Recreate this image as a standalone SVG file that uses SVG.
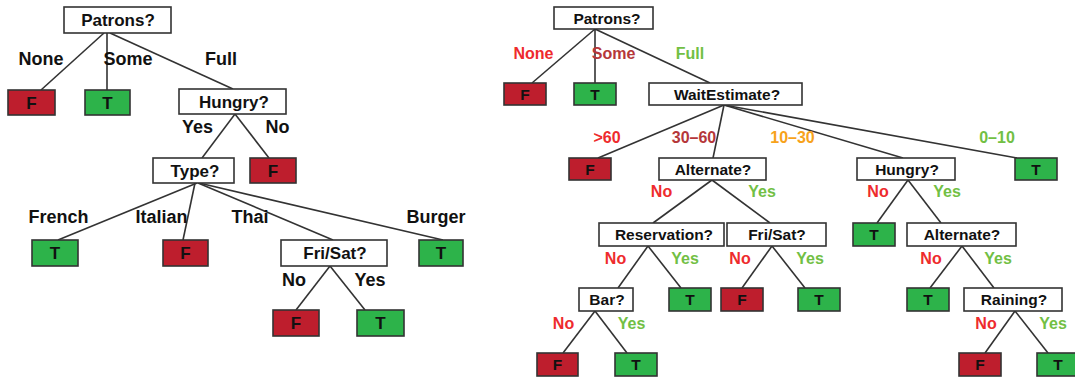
<svg xmlns="http://www.w3.org/2000/svg" width="1075" height="377" viewBox="0 0 1075 377">
<style>
.n{fill:#fff;stroke:#333;stroke-width:1.6}
.f{fill:#be1e2d;stroke:#333;stroke-width:1.6}
.t{fill:#2db34a;stroke:#333;stroke-width:1.6}
text{font-family:"Liberation Sans",Arial,sans-serif;font-weight:bold;text-anchor:middle}
.L text{font-size:17px;fill:#111}
.R text{font-size:15.5px;fill:#111}
.ll{font-size:18px;fill:#111}
.rl{font-size:16px}
.red{fill:#ee2b2d}
.dred{fill:#b5373a}
.grn{fill:#72bf44}
.org{fill:#f7a21b}
#edges line{stroke:#333;stroke-width:1.6}
</style>
<g id="edges">
<line x1="104" y1="33" x2="41" y2="90"/>
<line x1="107" y1="33" x2="107" y2="90"/>
<line x1="110" y1="33" x2="233" y2="89"/>
<line x1="235" y1="114" x2="202" y2="158"/>
<line x1="235" y1="114" x2="269" y2="158"/>
<line x1="197" y1="183" x2="58" y2="240"/>
<line x1="195" y1="183" x2="183" y2="240"/>
<line x1="198" y1="183" x2="333" y2="240"/>
<line x1="199" y1="183" x2="443" y2="240"/>
<line x1="330" y1="266" x2="296" y2="310"/>
<line x1="330" y1="266" x2="365" y2="310"/>
<line x1="595" y1="29" x2="532" y2="83"/>
<line x1="595" y1="29" x2="595" y2="83"/>
<line x1="595" y1="29" x2="710" y2="83"/>
<line x1="724" y1="105" x2="598" y2="158"/>
<line x1="724" y1="105" x2="713" y2="158"/>
<line x1="724" y1="105" x2="903" y2="158"/>
<line x1="724" y1="105" x2="1017" y2="158"/>
<line x1="712" y1="180" x2="653" y2="223"/>
<line x1="712" y1="180" x2="770" y2="223"/>
<line x1="908" y1="180" x2="877" y2="223"/>
<line x1="908" y1="180" x2="941" y2="223"/>
<line x1="648" y1="246" x2="618" y2="288"/>
<line x1="648" y1="246" x2="681" y2="288"/>
<line x1="772" y1="246" x2="742" y2="288"/>
<line x1="772" y1="246" x2="805" y2="288"/>
<line x1="962" y1="246" x2="930" y2="288"/>
<line x1="962" y1="246" x2="994" y2="288"/>
<line x1="595" y1="311" x2="563" y2="353"/>
<line x1="595" y1="311" x2="627" y2="353"/>
<line x1="1015" y1="311" x2="985" y2="353"/>
<line x1="1015" y1="311" x2="1048" y2="353"/>
</g>
<g id="edge-labels">
<text class="ll" x="41" y="65">None</text>
<text class="ll" x="128" y="65">Some</text>
<text class="ll" x="221" y="65">Full</text>
<text class="ll" x="197.5" y="133">Yes</text>
<text class="ll" x="277.5" y="133">No</text>
<text class="ll" x="58.5" y="223">French</text>
<text class="ll" x="161.5" y="223">Italian</text>
<text class="ll" x="250" y="223">Thai</text>
<text class="ll" x="436" y="223">Burger</text>
<text class="ll" x="294" y="286">No</text>
<text class="ll" x="370" y="286">Yes</text>
<text class="rl red" x="533.5" y="59">None</text>
<text class="rl dred" x="613.5" y="59">Some</text>
<text class="rl grn" x="690" y="59">Full</text>
<text class="rl red" x="607" y="143">&gt;60</text>
<text class="rl dred" x="694" y="143">30–60</text>
<text class="rl org" x="792.5" y="143">10–30</text>
<text class="rl grn" x="997" y="143">0–10</text>
<text class="rl red" x="661.5" y="197">No</text>
<text class="rl grn" x="762" y="197">Yes</text>
<text class="rl red" x="878" y="197">No</text>
<text class="rl grn" x="947" y="197">Yes</text>
<text class="rl red" x="615.5" y="264">No</text>
<text class="rl grn" x="685" y="264">Yes</text>
<text class="rl red" x="740" y="264">No</text>
<text class="rl grn" x="810" y="264">Yes</text>
<text class="rl red" x="931" y="264">No</text>
<text class="rl grn" x="998" y="264">Yes</text>
<text class="rl red" x="563.5" y="329">No</text>
<text class="rl grn" x="631.5" y="329">Yes</text>
<text class="rl red" x="986" y="329">No</text>
<text class="rl grn" x="1053" y="329">Yes</text>
</g>
<g class="L">
<g id="l-patrons"><rect class="n" x="64" y="7" width="107" height="26"/><text x="118" y="26">Patrons?</text></g>
<g id="l-f1"><rect class="f" x="8" y="90" width="47" height="25"/><text x="31.5" y="108.5">F</text></g>
<g id="l-t1"><rect class="t" x="85" y="90" width="45" height="25"/><text x="107.5" y="108.5">T</text></g>
<g id="l-hungry"><rect class="n" x="179" y="89" width="107" height="25"/><text x="234" y="107.5">Hungry?</text></g>
<g id="l-type"><rect class="n" x="153" y="158" width="81" height="25"/><text x="195" y="176.5">Type?</text></g>
<g id="l-f2"><rect class="f" x="250" y="158" width="46" height="25"/><text x="273" y="176.5">F</text></g>
<g id="l-t2"><rect class="t" x="32" y="240" width="46" height="26"/><text x="55" y="259">T</text></g>
<g id="l-f3"><rect class="f" x="163" y="240" width="45" height="26"/><text x="185.5" y="259">F</text></g>
<g id="l-frisat"><rect class="n" x="281" y="240" width="106" height="26"/><text x="335" y="259">Fri/Sat?</text></g>
<g id="l-t3"><rect class="t" x="419" y="240" width="44" height="26"/><text x="441" y="259">T</text></g>
<g id="l-f4"><rect class="f" x="273" y="310" width="46" height="26"/><text x="296" y="329">F</text></g>
<g id="l-t4"><rect class="t" x="357" y="310" width="47" height="26"/><text x="380.5" y="329">T</text></g>
</g>
<g class="R">
<g id="r-patrons"><rect class="n" x="554" y="7" width="99" height="22"/><text x="607" y="23.5">Patrons?</text></g>
<g id="r-f1"><rect class="f" x="504" y="83" width="42" height="22"/><text x="525" y="99.5">F</text></g>
<g id="r-t1"><rect class="t" x="574" y="83" width="42" height="22"/><text x="595" y="99.5">T</text></g>
<g id="r-wait"><rect class="n" x="649" y="83" width="153" height="22"/><text x="727" y="99.5">WaitEstimate?</text></g>
<g id="r-f2"><rect class="f" x="569" y="158" width="42" height="22"/><text x="590" y="174.5">F</text></g>
<g id="r-alt1"><rect class="n" x="659" y="158" width="107" height="22"/><text x="713" y="174.5">Alternate?</text></g>
<g id="r-hungry"><rect class="n" x="857" y="158" width="98" height="22"/><text x="907" y="174.5">Hungry?</text></g>
<g id="r-t2"><rect class="t" x="1015" y="158" width="42" height="22"/><text x="1036" y="174.5">T</text></g>
<g id="r-res"><rect class="n" x="599" y="223" width="125" height="23"/><text x="664" y="240">Reservation?</text></g>
<g id="r-frisat"><rect class="n" x="727" y="223" width="99" height="23"/><text x="777" y="240">Fri/Sat?</text></g>
<g id="r-t3"><rect class="t" x="853" y="223" width="42" height="23"/><text x="874" y="240">T</text></g>
<g id="r-alt2"><rect class="n" x="907" y="223" width="109" height="23"/><text x="962" y="240">Alternate?</text></g>
<g id="r-bar"><rect class="n" x="579" y="288" width="54" height="23"/><text x="607" y="305">Bar?</text></g>
<g id="r-t4"><rect class="t" x="669" y="288" width="42" height="23"/><text x="690" y="305">T</text></g>
<g id="r-f3"><rect class="f" x="721" y="288" width="42" height="23"/><text x="742" y="305">F</text></g>
<g id="r-t5"><rect class="t" x="798" y="288" width="42" height="23"/><text x="819" y="305">T</text></g>
<g id="r-t6"><rect class="t" x="907" y="288" width="42" height="23"/><text x="928" y="305">T</text></g>
<g id="r-rain"><rect class="n" x="964" y="288" width="98" height="23"/><text x="1014" y="305">Raining?</text></g>
<g id="r-f4"><rect class="f" x="537" y="353" width="41" height="23"/><text x="557.5" y="370">F</text></g>
<g id="r-t7"><rect class="t" x="615" y="353" width="42" height="23"/><text x="636" y="370">T</text></g>
<g id="r-f5"><rect class="f" x="959" y="353" width="42" height="23"/><text x="980" y="370">F</text></g>
<g id="r-t8"><rect class="t" x="1037" y="353" width="42" height="23"/><text x="1058" y="370">T</text></g>
</g>
</svg>
